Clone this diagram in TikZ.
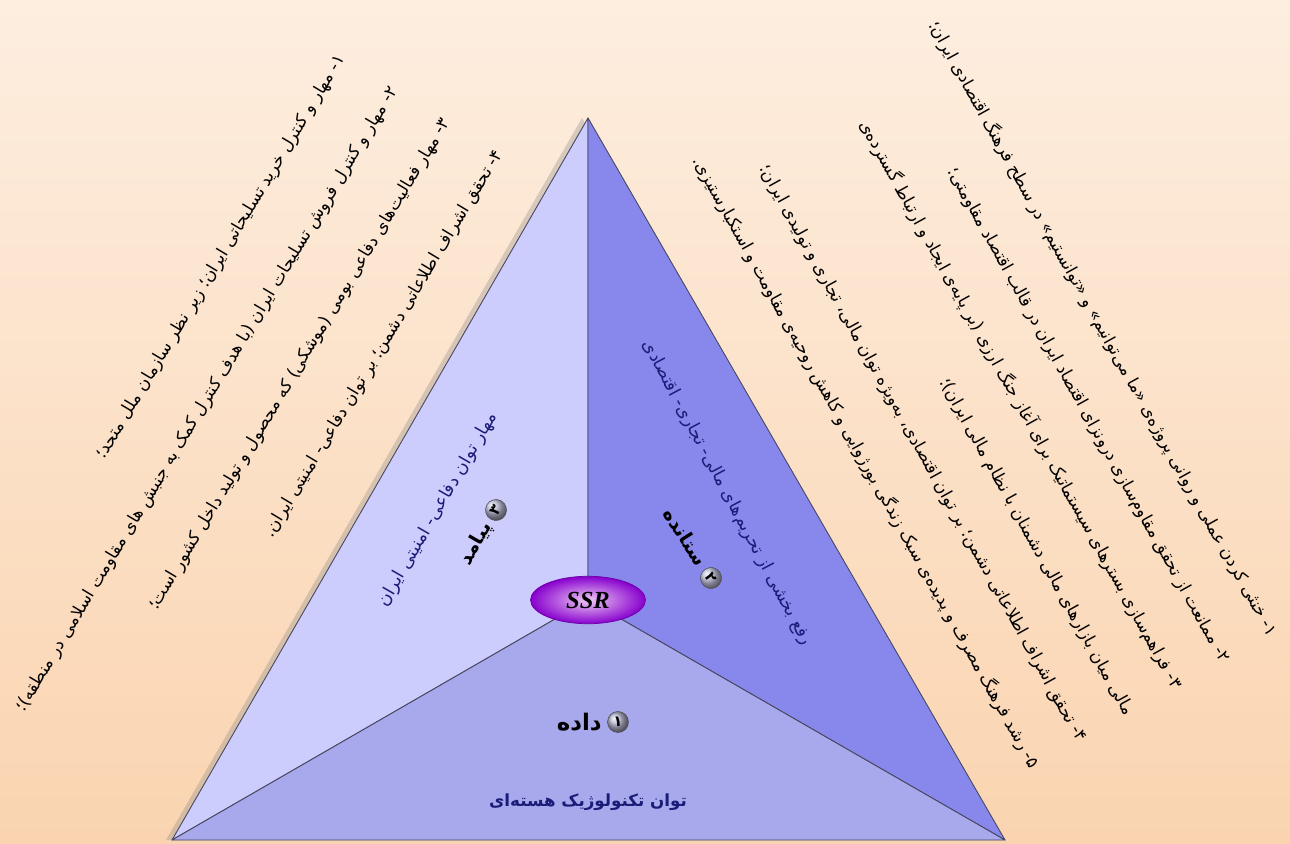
\documentclass[tikz,border=0pt]{standalone}
\usepackage{fontspec}
\usepackage{xcolor}
\usetikzlibrary{shapes.geometric, positioning, shadows}
\newfontfamily\fafont[Script=Arabic]{DejaVu Sans}
\newfontfamily\latinfont{Liberation Serif}
\TeXXeTstate=1

\definecolor{bgtop}{RGB}{253,238,224}
\definecolor{bgbottom}{RGB}{250,212,176}
\definecolor{faceleft}{RGB}{204,204,253}
\definecolor{faceright}{RGB}{136,136,236}
\definecolor{facebottom}{RGB}{168,168,236}
\definecolor{edgegray}{RGB}{70,70,95}
\definecolor{labelnavy}{RGB}{28,28,120}
\definecolor{ssrouter}{RGB}{135,0,205}
\definecolor{ssrinner}{RGB}{238,200,246}
\definecolor{ballgray}{RGB}{185,185,212}

\begin{document}
\begin{tikzpicture}[
    x=0.02cm, y=-0.02cm,
    % Styles
    face/.style={draw=edgegray, line width=0.5pt, line join=round},
    outtext/.style={font=\fafont\fontsize{9.7}{31}\selectfont, align=right, inner sep=0pt, text=black},
    facelabel/.style={font=\fafont\fontsize{10}{12}\selectfont, text=labelnavy, inner sep=0pt},
    steplabel/.style={font=\fafont\bfseries\fontsize{11}{13}\selectfont, text=black, inner sep=0pt},
    numball/.style={circle, draw=gray!60!black, line width=0.3pt, shading=ball, ball color=ballgray, minimum size=0.42cm, inner sep=0pt, font=\fafont\bfseries\fontsize{8.5}{9}\selectfont},
    ssr/.style={ellipse, draw=ssrouter!80!black, line width=0.4pt, inner color=ssrinner, outer color=ssrouter, minimum width=2.3cm, minimum height=0.95cm, font=\latinfont\bfseries\itshape\fontsize{14}{16}\selectfont}
]

% Background
\shade[top color=bgtop, bottom color=bgbottom] (0,0) rectangle (1290,844);
\useasboundingbox (0,0) rectangle (1290,844);

% Corner points of the triangle
\coordinate (apex) at (588,118);
\coordinate (bl) at (172,840);
\coordinate (br) at (1005,840);
\coordinate (mid) at (588,600);

% Outcome list (left)
\node[outtext, rotate=59, anchor=north east, font=\fafont\fontsize{9.7}{35}\selectfont] (defencelist) at (334,52) {
    \beginR ۱- مهار و کنترل خرید تسلیحاتی ایران؛ زیر نظر سازمان ملل متحد؛\endR\\
    \beginR ۲- مهار و کنترل فروش تسلیحات ایران (با هدف کنترل کمک به جنبش های مقاومت اسلامی در منطقه)؛\endR\\
    \beginR ۳- مهار فعالیت‌های دفاعی بومی (موشکی) که محصول و تولید داخل کشور است؛\endR\\
    \beginR ۴- تحقق اشراف اطلاعاتی دشمن؛ بر توان دفاعی- امنیتی ایران.\endR
};

% Output list (right)
\node[outtext, rotate=-61, anchor=north east] (economylist) at (1282,630) {
    \beginR ۱- خنثی کردن عملی و روانی پروژه‌ی «ما می‌توانیم» و «توانستیم» در سطح فرهنگ اقتصادی ایران؛\endR\\
    \beginR ۲- ممانعت از تحقق مقاوم‌سازی درونزای اقتصاد ایران در قالب اقتصاد مقاومتی؛\endR\\
    \beginR ۳- فراهم‌سازی بسترهای سیستماتیک برای آغاز جنگ ارزی (بر پایه‌ی ایجاد و ارتباط گسترده‌ی\endR\\
    \beginR مالی میان بازارهای مالی دشمنان با نظام مالی ایران)؛\endR\\
    \beginR ۴- تحقق اشراف اطلاعاتی دشمن؛ بر توان اقتصادی، به‌ویژه توان مالی، تجاری و تولیدی ایران؛\endR\\
    \beginR ۵- رشد فرهنگ مصرف و پدیده‌ی سبک زندگی بورژوایی و کاهش روحیه‌ی مقاومت و استکبارستیزی.\endR
};

% Triangle with three faces
\path[fill=faceleft, drop shadow={shadow xshift=-1.2mm, shadow yshift=0mm, opacity=0.3}] (apex) -- (bl) -- (br) -- cycle;
\filldraw[face, fill=faceleft] (apex) -- (bl) -- (mid) -- cycle;
\filldraw[face, fill=faceright] (apex) -- (mid) -- (br) -- cycle;
\filldraw[face, fill=facebottom] (bl) -- (mid) -- (br) -- cycle;

% Centre
\node[ssr] (ssr) at (mid) {SSR};

% Bottom face: input
\node[numball] (num1) at (618,722) {۱};
\node[steplabel, font=\fafont\bfseries\fontsize{13}{15}\selectfont, left=3pt of num1] (input) {\beginR داده\endR};
\node[steplabel, font=\fafont\bfseries\fontsize{9.5}{12}\selectfont, text=labelnavy] (nuclear) at (588,802) {\beginR توان تکنولوژیک هسته‌ای\endR};

% Left face: outcome
\node[facelabel, rotate=60] (defencepower) at (438,510) {\beginR مهار توان دفاعی- امنیتی ایران\endR};
\node[numball, rotate=60] (num3) at (496,510) {۳};
\node[steplabel, rotate=60, anchor=east, inner xsep=3pt] (outcome) at (num3.west) {\beginR پیامد\endR};

% Right face: output
\node[facelabel, rotate=-62] (sanctions) at (727,493) {\beginR رفع بخشی از تحریم‌های مالی- تجاری- اقتصادی\endR};
\node[numball, rotate=-58] (num2) at (711,578) {۲};
\node[steplabel, rotate=-58, anchor=east, inner xsep=3pt] (output) at (num2.west) {\beginR ستانده\endR};

\end{tikzpicture}
\end{document}
